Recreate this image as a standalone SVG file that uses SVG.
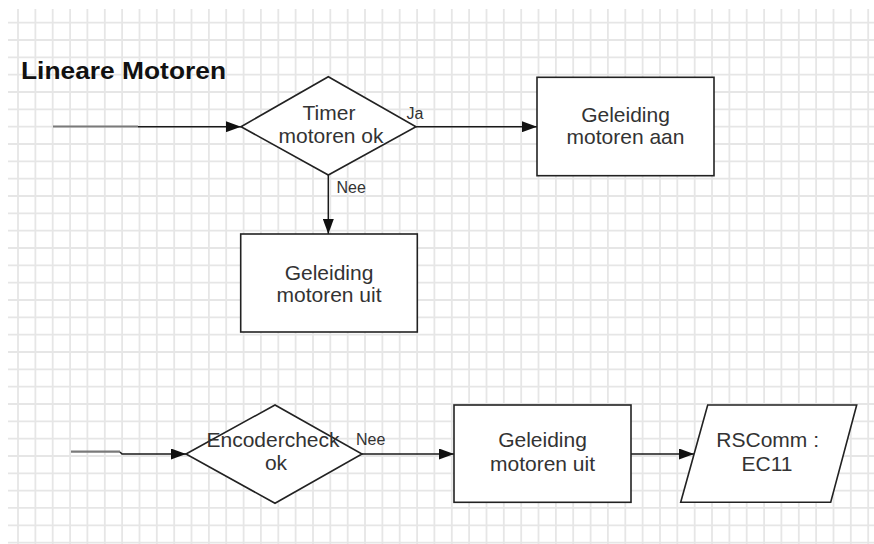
<svg xmlns="http://www.w3.org/2000/svg" width="874" height="544" viewBox="0 0 874 544">
  <defs>
    <marker id="arrow" markerUnits="userSpaceOnUse" viewBox="0 0 15 11" refX="15" refY="5.5" markerWidth="15" markerHeight="11" orient="auto">
      <path d="M0 0 L15 5.5 L0 11 Z" fill="#111"/>
    </marker>
    <style>
      .grid { fill: none; stroke: #e6e6e6; stroke-width: 1.8; }
      .shape { fill: #ffffff; stroke: #222; stroke-width: 1.6; }
      .label { font-family: "Liberation Sans", Arial, sans-serif; font-size: 21px; fill: #333; text-anchor: middle; }
      .edge-label { font-family: "Liberation Sans", Arial, sans-serif; font-size: 16px; fill: #333; }
      .title { font-family: "Liberation Sans", Arial, sans-serif; font-size: 24px; font-weight: bold; fill: #111; }
      .line { fill: none; stroke: #1a1a1a; stroke-width: 1.5; }
      .stub { fill: none; stroke: #7a7a7a; stroke-width: 2.2; }
    </style>
  </defs>

  <rect width="874" height="544" fill="#ffffff"/>

  <!-- squared paper background -->
  <path class="grid" d="
    M18 9V544 M35.4 9V544 M52.7 9V544 M70.1 9V544 M87.4 9V544 M104.8 9V544 M122.1 9V544 M139.5 9V544
    M156.8 9V544 M174.2 9V544 M191.5 9V544 M208.9 9V544 M226.2 9V544 M243.6 9V544 M260.9 9V544 M278.3 9V544
    M295.6 9V544 M313 9V544 M330.3 9V544 M347.7 9V544 M365 9V544 M382.4 9V544 M399.7 9V544 M417.1 9V544
    M434.4 9V544 M451.8 9V544 M469.1 9V544 M486.5 9V544 M503.8 9V544 M521.2 9V544 M538.5 9V544 M555.9 9V544
    M573.2 9V544 M590.6 9V544 M607.9 9V544 M625.3 9V544 M642.6 9V544 M660 9V544 M677.3 9V544 M694.7 9V544
    M712 9V544 M729.4 9V544 M746.7 9V544 M764.1 9V544 M781.4 9V544 M798.8 9V544 M816.1 9V544 M833.5 9V544
    M850.8 9V544 M868.2 9V544
    M8 22.7H874 M8 40H874 M8 57.4H874 M8 74.7H874 M8 92H874 M8 109.4H874 M8 126.7H874 M8 144H874
    M8 161.3H874 M8 178.7H874 M8 196H874 M8 213.3H874 M8 230.7H874 M8 248H874 M8 265.3H874 M8 282.7H874
    M8 300H874 M8 317.3H874 M8 334.6H874 M8 352H874 M8 369.3H874 M8 386.6H874 M8 404H874 M8 421.3H874
    M8 438.6H874 M8 456H874 M8 473.3H874 M8 490.6H874 M8 507.9H874 M8 525.3H874 M8 542.6H874"/>

  <text class="title" x="21" y="78.5" textLength="205" lengthAdjust="spacingAndGlyphs">Lineare Motoren</text>

  <g id="connectors">
    <line class="stub" x1="53" y1="126.5" x2="138" y2="126.5"/>
    <line class="line" x1="138" y1="126.7" x2="241" y2="126.7" marker-end="url(#arrow)"/>
    <line class="line" x1="416" y1="126.7" x2="537" y2="126.7" marker-end="url(#arrow)"/>
    <line class="line" x1="328.3" y1="175" x2="328.3" y2="234" marker-end="url(#arrow)"/>
    <line class="stub" x1="71" y1="451.7" x2="120" y2="451.7"/>
    <path class="line" d="M120 452 L122 454 L186 454" marker-end="url(#arrow)"/>
    <line class="line" x1="362" y1="454" x2="454" y2="454" marker-end="url(#arrow)"/>
    <line class="line" x1="631" y1="454" x2="694" y2="454" marker-end="url(#arrow)"/>
    <text class="edge-label" x="406.5" y="119">Ja</text>
    <text class="edge-label" x="336.5" y="192.5">Nee</text>
    <text class="edge-label" x="356" y="444.5">Nee</text>
  </g>

  <g id="timer-check">
    <polygon class="shape" points="241,126.7 328.3,76.7 416,126.7 328.3,175"/>
    <text class="label" x="329" y="119.5">Timer</text>
    <text class="label" x="331" y="142.5">motoren ok</text>
  </g>

  <g id="motors-on">
    <rect class="shape" x="537" y="77.3" width="177" height="98.4"/>
    <text class="label" x="625.5" y="122">Geleiding</text>
    <text class="label" x="625.5" y="143.5">motoren aan</text>
  </g>

  <g id="motors-off-1">
    <rect class="shape" x="240.7" y="234" width="176.6" height="98"/>
    <text class="label" x="329" y="280">Geleiding</text>
    <text class="label" x="329" y="301.7">motoren uit</text>
  </g>

  <g id="encoder-check">
    <polygon class="shape" points="186,454 275,405 362,454 275,503.3"/>
    <text class="label" x="273" y="446.7">Encodercheck</text>
    <text class="label" x="276" y="470">ok</text>
  </g>

  <g id="motors-off-2">
    <rect class="shape" x="454" y="405" width="177" height="97.3"/>
    <text class="label" x="542.5" y="446.7">Geleiding</text>
    <text class="label" x="542.5" y="471">motoren uit</text>
  </g>

  <g id="rscomm">
    <polygon class="shape" points="707.7,405 856.7,405 830.7,502.3 680.7,502.3"/>
    <text class="label" x="767.7" y="446.7">RSComm :</text>
    <text class="label" x="767" y="471">EC11</text>
  </g>
</svg>
